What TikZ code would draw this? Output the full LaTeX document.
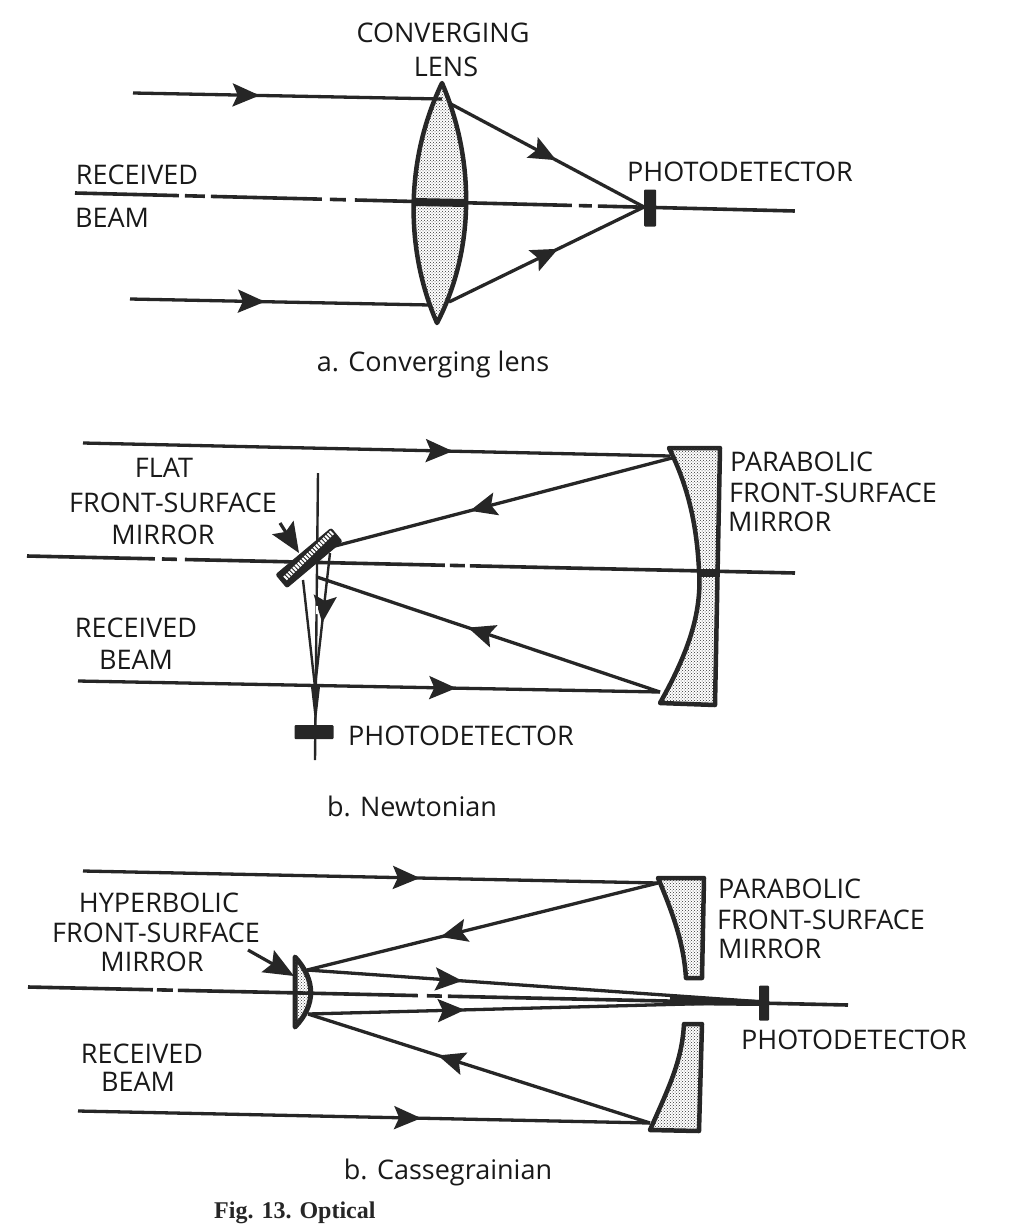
\documentclass[tikz,border=0pt]{standalone}
\usepackage{fontspec}
\setmainfont{Open Sans}
\newfontfamily\figfont{Liberation Serif}
\usetikzlibrary{arrows.meta,decorations.markings,patterns}
\tikzset{
  lbl/.style={font=\fontsize{27}{31}\selectfont, inner sep=0pt, text=black!90},
  capt/.style={font=\fontsize{27}{31}\selectfont, inner sep=0pt, text=black!90},
  ray/.style={line width=3.3pt, draw=black!85},
  midarrow/.style={postaction={decorate}, decoration={markings, mark=at position #1 with {\arrow{Stealth[length=27pt,width=23pt,inset=5pt]}}}},
  glass/.style={draw=black!85, line width=4.5pt, line join=round, fill=white, postaction={pattern=crosshatch dots, pattern color=black!80}},
  sensor/.style={fill=black!85, draw=none, rounded corners=1pt},
  pointer/.style={line width=3.2pt, draw=black!85, -{Stealth[length=30pt,width=25pt,inset=5pt]}}
}
\begin{document}
\begin{tikzpicture}[x=1pt,y=-1pt]
  \useasboundingbox (0,0) rectangle (1020,1224);

  % a. converging lens
  \coordinate (atopL) at (133,93);
  \coordinate (atopR) at (442,99);
  \coordinate (abotL) at (130,299);
  \coordinate (abotR) at (430,305);
  \coordinate (aupper) at (449,103);
  \coordinate (alower) at (449,302);
  \coordinate (afocus) at (644,207);
  \coordinate (axisLa) at (75,193);
  \coordinate (axisRa) at (795,211);

  \draw[glass] (442,83) .. controls (405,160) and (405,250) .. (437,323)
    .. controls (475,250) and (475,160) .. (442,83) -- cycle;
  \draw[ray, midarrow=.41] (atopL) -- (atopR);
  \draw[ray, midarrow=.45] (abotL) -- (abotR);
  \draw[ray, midarrow=.55] (aupper) -- (afocus);
  \draw[ray, midarrow=.56] (alower) -- (afocus);
  \draw[ray, line width=3.6pt, dash pattern=on 104pt off 6pt on 20pt off 6pt on 111pt off 8pt on 16pt off 9pt on 217pt off 7pt on 13pt off 6pt on 197pt] (axisLa) -- (axisRa);
  \draw[ray, line width=8pt] (414,202) -- (466,203);
  \node[sensor, minimum width=12pt, minimum height=37pt] (adet) at (650,208) {};

  \node[lbl] (aconv) at (443,33) {CONVERGING};
  \node[lbl] (alens) at (446,67) {LENS};
  \node[lbl] (arec) at (137,175) {RECEIVED};
  \node[lbl] (abeam) at (112,218) {BEAM};
  \node[lbl] (aphoto) at (740,172) {PHOTODETECTOR};
  \node[capt] (acapt) at (433,364) {a. Converging lens};

  % b. Newtonian
  \coordinate (btopL) at (83,443);
  \coordinate (btopR) at (670,456);
  \coordinate (bbotL) at (78,681);
  \coordinate (bbotR) at (660,692);
  \coordinate (bupM) at (672,458);
  \coordinate (bupF) at (335,546);
  \coordinate (bloF) at (317,577);
  \coordinate (bdownR) at (330,553);
  \coordinate (bdownL) at (303,580);
  \coordinate (bmeet) at (315,687);
  \coordinate (bvertT) at (318,473);
  \coordinate (bvertB) at (315,760);
  \coordinate (axisLb) at (27,556);
  \coordinate (axisRb) at (795,573);

  \draw[glass] (669,448) -- (720,448) -- (715,705) -- (660,703)
    .. controls (690,650) and (702,610) .. (699,570)
    .. controls (697,530) and (690,490) .. (669,448) -- cycle;
  \draw[ray, midarrow=.63] (btopL) -- (btopR);
  \draw[ray, midarrow=.65] (bbotL) -- (bbotR);
  \draw[ray, midarrow=.60] (bupM) -- (bupF);
  \draw[ray, midarrow=.56] (bbotR) -- (bloF);
  \draw[ray, line width=3.6pt, dash pattern=on 128pt off 7pt on 15pt off 8pt on 260pt off 5pt on 15pt off 5pt on 330pt] (axisLb) -- (axisRb);
  \draw[ray, line width=8pt] (699,573) -- (716,573);
  \draw[ray, line width=2.4pt] (bvertT) -- (bvertB);
  \draw[ray, line width=2.4pt] (bdownL) -- (bmeet);
  \draw[ray, line width=2.4pt, midarrow=.52] (bdownR) -- (bmeet);
  \fill[black!85] (311,687) -- (320,687) -- (315.5,726) -- cycle;
  \draw[white, line width=2pt, dash pattern=on 8pt off 40pt] (317,606) -- (316,652);

  \node[draw=black!85, fill=black!85, line width=1pt, rounded corners=2pt, minimum width=72pt, minimum height=17pt, rotate=40, inner sep=0pt] (bflat) at (309,558) {};
  \draw[white, line width=5pt, dash pattern=on 2pt off 1.2pt] ([xshift=4pt,yshift=3pt]bflat.west) -- ([xshift=-4pt,yshift=3pt]bflat.east);
  \node[sensor, minimum width=39pt, minimum height=14pt] (bdet) at (314,732) {};
  \coordinate (bptr) at (280,523);
  \draw[pointer] (bptr) -- (299,553);

  \node[lbl] (bflatlbl) at (164,468) {FLAT};
  \node[lbl] (bfront) at (173,503) {FRONT-SURFACE};
  \node[lbl] (bmirror) at (163,535) {MIRROR};
  \node[lbl] (brec) at (136,628) {RECEIVED};
  \node[lbl] (bbeam) at (136,660) {BEAM};
  \node[lbl, anchor=west] (bphoto) at (348,736) {PHOTODETECTOR};
  \node[lbl, anchor=west] (bpara) at (730,462) {PARABOLIC};
  \node[lbl, anchor=west] (bfrontR) at (729,493) {FRONT-SURFACE};
  \node[lbl, anchor=west] (bmirrorR) at (728,522) {MIRROR};
  \node[capt] (bcapt) at (412,806) {b. Newtonian};

  % b. Cassegrainian
  \coordinate (ctopL) at (83,871);
  \coordinate (ctopR) at (658,883);
  \coordinate (cbotL) at (78,1111);
  \coordinate (cbotR) at (650,1123);
  \coordinate (chypT) at (307,970);
  \coordinate (chypB) at (308,1014);
  \coordinate (cfocus) at (764,1002);
  \coordinate (axisLc) at (28,987);
  \coordinate (axisRc) at (848,1005);

  \draw[glass] (658,878) -- (704,878) -- (702,978) -- (686,978)
    .. controls (684,950) and (678,925) .. (658,878) -- cycle;
  \draw[glass] (684,1024) -- (702,1024) -- (699,1131) -- (650,1130)
    .. controls (670,1085) and (682,1060) .. (684,1024) -- cycle;
  \draw[glass, line width=5pt] (295,957) .. controls (316,980) and (316,1005) .. (295,1027) -- cycle;
  \draw[ray, midarrow=.586] (ctopL) -- (ctopR);
  \draw[ray, midarrow=.60] (cbotL) -- (cbotR);
  \draw[ray, midarrow=.62] (ctopR) -- (chypT);
  \draw[ray, midarrow=.62] (cbotR) -- (chypB);
  \draw[ray, midarrow=.34] (chypT) -- (cfocus);
  \draw[ray, midarrow=.344] (chypB) -- (cfocus);
  \draw[ray, line width=3.6pt, dash pattern=on 125pt off 4pt on 16pt off 5pt on 240pt off 9pt on 15pt off 6pt on 405pt] (axisLc) -- (axisRc);
  \fill[black!85] (670,996) -- (670,1005) -- (760,1006) -- (760,1000) -- cycle;
  \node[sensor, minimum width=10pt, minimum height=35pt] (cdet) at (764,1003) {};
  \coordinate (cptr) at (248,950);
  \draw[pointer] (cptr) -- (294,976);

  \node[lbl] (chyper) at (159,903) {HYPERBOLIC};
  \node[lbl] (cfront) at (156,933) {FRONT-SURFACE};
  \node[lbl] (cmirror) at (152,962) {MIRROR};
  \node[lbl] (crec) at (142,1054) {RECEIVED};
  \node[lbl] (cbeam) at (138,1082) {BEAM};
  \node[lbl, anchor=west] (cpara) at (718,889) {PARABOLIC};
  \node[lbl, anchor=west] (cfrontR) at (717,920) {FRONT-SURFACE};
  \node[lbl, anchor=west] (cmirrorR) at (718,949) {MIRROR};
  \node[lbl] (cphoto) at (854,1040) {PHOTODETECTOR};
  \node[capt] (ccapt) at (448,1172) {b. Cassegrainian};

  \node[anchor=base west, inner sep=0pt, font=\figfont\bfseries\fontsize{24}{28}\selectfont, text=black!85] (figcapt) at (214,1218) {Fig. 13. Optical};
\end{tikzpicture}
\end{document}
